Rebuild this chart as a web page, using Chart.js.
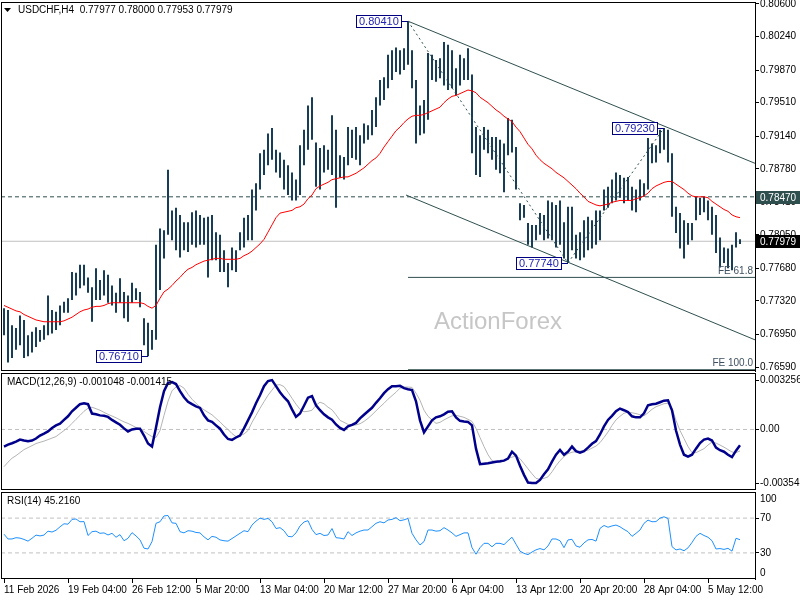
<!DOCTYPE html>
<html>
<head>
<meta charset="utf-8">
<script src="https://cdn.jsdelivr.net/npm/chart.js@4.4.1/dist/chart.umd.min.js"></script>
<style>
  body { margin: 0; background: #fff; }
  #wrap { position: relative; width: 800px; height: 600px; overflow: hidden; background: #fff; }
  canvas { position: absolute; left: 0; }
</style>
</head>
<body>
<div id="wrap">
  <canvas id="priceChart" width="800" height="372" style="top:0"></canvas>
  <canvas id="macdChart" width="800" height="118" style="top:372px"></canvas>
  <canvas id="rsiChart" width="800" height="110" style="top:490px"></canvas>
</div>
<script>
// USDCHF H4, one entry per pair of 4h bars
const HIGH = [
  0.7724, 0.7722, 0.7705, 0.7702, 0.7716, 0.7711, 0.7694, 0.7698, 0.7703, 0.7700,
  0.7705, 0.7738, 0.7722, 0.7720, 0.7727, 0.7731, 0.7735, 0.7764, 0.7763, 0.7772,
  0.7772, 0.7758, 0.7747, 0.7768, 0.7755, 0.7766, 0.7761, 0.7749, 0.7741, 0.7757,
  0.7742, 0.7738, 0.7752, 0.7746, 0.7742, 0.7713, 0.7708, 0.7700, 0.7794, 0.7812,
  0.7810, 0.7877, 0.7832, 0.7835, 0.7827, 0.7819, 0.7819, 0.7830, 0.7832, 0.7827,
  0.7824, 0.7825, 0.7827, 0.7808, 0.7805, 0.7788, 0.7774, 0.7791, 0.7788, 0.7808,
  0.7824, 0.7827, 0.7855, 0.7862, 0.7895, 0.7899, 0.7917, 0.7923, 0.7899, 0.7896,
  0.7888, 0.7882, 0.7874, 0.7866, 0.7904, 0.7921, 0.7948, 0.7957, 0.7907, 0.7901,
  0.7904, 0.7899, 0.7937, 0.7921, 0.7893, 0.7891, 0.7924, 0.7921, 0.7924, 0.7915,
  0.7928, 0.7926, 0.7943, 0.7957, 0.7976, 0.7979, 0.8004, 0.8009, 0.8012, 0.8009,
  0.8011, 0.8041, 0.8009, 0.7976, 0.7948, 0.7954, 0.8006, 0.8004, 0.7998, 0.8000,
  0.8018, 0.8015, 0.8009, 0.7989, 0.8004, 0.8000, 0.8011, 0.7982, 0.7924, 0.7915,
  0.7924, 0.7921, 0.7913, 0.7913, 0.7910, 0.7906, 0.7934, 0.7932, 0.7902, 0.7840,
  0.7838, 0.7818, 0.7816, 0.7816, 0.7829, 0.7827, 0.7843, 0.7841, 0.7838, 0.7843,
  0.7819, 0.7836, 0.7836, 0.7805, 0.7808, 0.7821, 0.7825, 0.7821, 0.7832, 0.7832,
  0.7855, 0.7858, 0.7866, 0.7874, 0.7871, 0.7868, 0.7869, 0.7858, 0.7855, 0.7866,
  0.7862, 0.7912, 0.7906, 0.7904, 0.7921, 0.7923, 0.7921, 0.7895, 0.7836, 0.7829,
  0.7821, 0.7818, 0.7818, 0.7847, 0.7846, 0.7847, 0.7843, 0.7836, 0.7827, 0.7802,
  0.7791, 0.7790, 0.7794, 0.7808, 0.7800
];
const LOW = [
  0.7694, 0.7664, 0.7669, 0.7678, 0.7683, 0.7669, 0.7671, 0.7675, 0.7681, 0.7687,
  0.7689, 0.7694, 0.7696, 0.7700, 0.7705, 0.7719, 0.7719, 0.7733, 0.7738, 0.7746,
  0.7749, 0.7741, 0.7709, 0.7733, 0.7733, 0.7738, 0.7730, 0.7727, 0.7719, 0.7730,
  0.7713, 0.7709, 0.7730, 0.7733, 0.7725, 0.7683, 0.7671, 0.7678, 0.7689, 0.7744,
  0.7779, 0.7805, 0.7799, 0.7788, 0.7780, 0.7788, 0.7786, 0.7794, 0.7791, 0.7794,
  0.7794, 0.7758, 0.7777, 0.7777, 0.7764, 0.7764, 0.7747, 0.7766, 0.7764, 0.7788,
  0.7791, 0.7799, 0.7799, 0.7832, 0.7855, 0.7871, 0.7882, 0.7888, 0.7874, 0.7868,
  0.7855, 0.7849, 0.7843, 0.7843, 0.7849, 0.7882, 0.7899, 0.7910, 0.7858, 0.7855,
  0.7874, 0.7877, 0.7871, 0.7835, 0.7868, 0.7866, 0.7882, 0.7890, 0.7888, 0.7882,
  0.7906, 0.7910, 0.7915, 0.7924, 0.7948, 0.7954, 0.7967, 0.7976, 0.7985, 0.7982,
  0.7987, 0.7993, 0.7967, 0.7906, 0.7915, 0.7917, 0.7932, 0.7976, 0.7974, 0.7978,
  0.7970, 0.7965, 0.7967, 0.7959, 0.7970, 0.7976, 0.7976, 0.7895, 0.7871, 0.7869,
  0.7899, 0.7895, 0.7888, 0.7877, 0.7873, 0.7852, 0.7893, 0.7896, 0.7855, 0.7821,
  0.7824, 0.7794, 0.7791, 0.7799, 0.7805, 0.7799, 0.7801, 0.7799, 0.7791, 0.7794,
  0.7779, 0.7774, 0.7788, 0.7779, 0.7777, 0.7780, 0.7788, 0.7790, 0.7794, 0.7799,
  0.7832, 0.7835, 0.7840, 0.7843, 0.7846, 0.7840, 0.7843, 0.7832, 0.7830, 0.7843,
  0.7847, 0.7855, 0.7884, 0.7885, 0.7895, 0.7899, 0.7885, 0.7825, 0.7807, 0.7790,
  0.7779, 0.7794, 0.7799, 0.7821, 0.7827, 0.7830, 0.7821, 0.7805, 0.7785, 0.7769,
  0.7774, 0.7768, 0.7766, 0.7791, 0.7795
];
const MA = [
  0.7727, 0.7725, 0.7723, 0.7721, 0.7720, 0.7717, 0.7715, 0.7713, 0.7711, 0.7710,
  0.7709, 0.7709, 0.7709, 0.7709, 0.7709, 0.7710, 0.7712, 0.7714, 0.7717, 0.7720,
  0.7722, 0.7723, 0.7725, 0.7726, 0.7726, 0.7727, 0.7729, 0.7730, 0.7730, 0.7730,
  0.7730, 0.7730, 0.7730, 0.7730, 0.7730, 0.7729, 0.7726, 0.7724, 0.7727, 0.7735,
  0.7742, 0.7745, 0.7749, 0.7754, 0.7758, 0.7763, 0.7767, 0.7769, 0.7772, 0.7774,
  0.7776, 0.7777, 0.7778, 0.7779, 0.7779, 0.7778, 0.7778, 0.7778, 0.7778, 0.7779,
  0.7782, 0.7784, 0.7787, 0.7791, 0.7795, 0.7800, 0.7808, 0.7816, 0.7824, 0.7829,
  0.7830, 0.7831, 0.7832, 0.7835, 0.7836, 0.7839, 0.7845, 0.7849, 0.7856, 0.7859,
  0.7861, 0.7863, 0.7866, 0.7867, 0.7868, 0.7869, 0.7869, 0.7871, 0.7873, 0.7876,
  0.7879, 0.7883, 0.7887, 0.7890, 0.7895, 0.7902, 0.7908, 0.7914, 0.7920, 0.7924,
  0.7929, 0.7933, 0.7936, 0.7937, 0.7937, 0.7938, 0.7940, 0.7942, 0.7944, 0.7946,
  0.7951, 0.7955, 0.7958, 0.7959, 0.7961, 0.7963, 0.7965, 0.7964, 0.7962, 0.7957,
  0.7954, 0.7951, 0.7947, 0.7943, 0.7940, 0.7936, 0.7933, 0.7930, 0.7924, 0.7919,
  0.7912, 0.7905, 0.7900, 0.7893, 0.7888, 0.7884, 0.7881, 0.7878, 0.7874, 0.7871,
  0.7868, 0.7864, 0.7860, 0.7856, 0.7851, 0.7847, 0.7842, 0.7840, 0.7838, 0.7837,
  0.7838, 0.7839, 0.7841, 0.7842, 0.7843, 0.7843, 0.7843, 0.7843, 0.7845, 0.7846,
  0.7848, 0.7851, 0.7856, 0.7859, 0.7861, 0.7863, 0.7864, 0.7864, 0.7861, 0.7858,
  0.7855, 0.7851, 0.7848, 0.7847, 0.7847, 0.7847, 0.7846, 0.7842, 0.7839, 0.7836,
  0.7833, 0.7831, 0.7827, 0.7825, 0.7824
];
const MACD = [
  -0.00113, -0.00100, -0.00091, -0.00080, -0.00067, -0.00073, -0.00078, -0.00073, -0.00060, -0.00040,
  -0.00027, -0.00013, 0.00010, 0.00027, 0.00038, 0.00063, 0.00087, 0.00120, 0.00143, 0.00167,
  0.00173, 0.00167, 0.00105, 0.00100, 0.00093, 0.00090, 0.00083, 0.00063, 0.00047, 0.00031,
  0.00007, -0.00013, 0.00000, 0.00005, 0.00005, -0.00040, -0.00093, -0.00113, 0.00013, 0.00147,
  0.00253, 0.00308, 0.00313, 0.00300, 0.00253, 0.00213, 0.00183, 0.00167, 0.00153, 0.00142,
  0.00093, 0.00060, 0.00050, 0.00027, 0.00005, -0.00033, -0.00063, -0.00069, -0.00053, -0.00040,
  0.00007, 0.00060, 0.00113, 0.00173, 0.00226, 0.00286, 0.00320, 0.00326, 0.00286, 0.00246,
  0.00213, 0.00186, 0.00133, 0.00083, 0.00105, 0.00157, 0.00210, 0.00220, 0.00160, 0.00127,
  0.00100, 0.00080, 0.00065, 0.00033, 0.00010, -0.00003, 0.00020, 0.00030, 0.00043, 0.00073,
  0.00097, 0.00120, 0.00143, 0.00176, 0.00206, 0.00240, 0.00266, 0.00286, 0.00286, 0.00288,
  0.00273, 0.00266, 0.00260, 0.00186, 0.00060, -0.00020, 0.00020, 0.00060, 0.00080, 0.00087,
  0.00100, 0.00117, 0.00120, 0.00080, 0.00057, 0.00053, 0.00050, 0.00027, -0.00127, -0.00229,
  -0.00226, -0.00223, -0.00218, -0.00213, -0.00210, -0.00206, -0.00193, -0.00147, -0.00173, -0.00240,
  -0.00300, -0.00351, -0.00354, -0.00354, -0.00333, -0.00296, -0.00263, -0.00213, -0.00167, -0.00135,
  -0.00167, -0.00147, -0.00113, -0.00143, -0.00153, -0.00143, -0.00120, -0.00095, -0.00077, -0.00033,
  0.00020, 0.00063, 0.00090, 0.00120, 0.00138, 0.00127, 0.00115, 0.00087, 0.00080, 0.00080,
  0.00107, 0.00160, 0.00167, 0.00170, 0.00180, 0.00190, 0.00193, 0.00127, -0.00007, -0.00100,
  -0.00167, -0.00180, -0.00167, -0.00127, -0.00090, -0.00067, -0.00060, -0.00073, -0.00120, -0.00137,
  -0.00147, -0.00167, -0.00183, -0.00140, -0.00105
];
const SIGNAL = [
  -0.00246, -0.00216, -0.00190, -0.00173, -0.00153, -0.00133, -0.00120, -0.00107, -0.00093, -0.00085,
  -0.00077, -0.00067, -0.00057, -0.00047, -0.00027, -0.00007, 0.00013, 0.00040, 0.00067, 0.00093,
  0.00120, 0.00140, 0.00147, 0.00137, 0.00127, 0.00113, 0.00100, 0.00089, 0.00077, 0.00063,
  0.00050, 0.00040, 0.00027, 0.00013, 0.00005, -0.00013, -0.00031, -0.00047, -0.00053, -0.00007,
  0.00093, 0.00186, 0.00256, 0.00280, 0.00290, 0.00273, 0.00233, 0.00200, 0.00173, 0.00149,
  0.00130, 0.00113, 0.00097, 0.00073, 0.00050, 0.00023, 0.00000, -0.00027, -0.00047, -0.00040,
  -0.00030, -0.00007, 0.00047, 0.00093, 0.00140, 0.00183, 0.00226, 0.00260, 0.00293, 0.00296,
  0.00283, 0.00246, 0.00206, 0.00167, 0.00133, 0.00117, 0.00120, 0.00127, 0.00160, 0.00180,
  0.00170, 0.00147, 0.00130, 0.00097, 0.00060, 0.00047, 0.00033, 0.00027, 0.00030, 0.00038,
  0.00053, 0.00073, 0.00097, 0.00123, 0.00149, 0.00173, 0.00200, 0.00223, 0.00246, 0.00273,
  0.00280, 0.00280, 0.00278, 0.00240, 0.00193, 0.00127, 0.00087, 0.00063, 0.00040, 0.00047,
  0.00063, 0.00077, 0.00090, 0.00093, 0.00087, 0.00080, 0.00067, 0.00053, 0.00007, -0.00053,
  -0.00113, -0.00167, -0.00206, -0.00213, -0.00218, -0.00206, -0.00190, -0.00183, -0.00176, -0.00193,
  -0.00226, -0.00260, -0.00293, -0.00323, -0.00330, -0.00323, -0.00313, -0.00280, -0.00240, -0.00206,
  -0.00180, -0.00160, -0.00150, -0.00147, -0.00143, -0.00142, -0.00137, -0.00123, -0.00110, -0.00087,
  -0.00053, -0.00017, 0.00027, 0.00063, 0.00087, 0.00107, 0.00115, 0.00110, 0.00105, 0.00097,
  0.00090, 0.00110, 0.00133, 0.00150, 0.00160, 0.00170, 0.00173, 0.00140, 0.00060, -0.00007,
  -0.00060, -0.00113, -0.00153, -0.00153, -0.00140, -0.00127, -0.00103, -0.00083, -0.00090, -0.00103,
  -0.00117, -0.00133, -0.00149, -0.00153, -0.00142
];
const RSI = [
  51.5, 46, 46, 47.5, 47, 45.5, 43.5, 46.8, 50.5, 49.5,
  50.5, 55, 54, 56, 60, 63.5, 63, 68.5, 69, 65.8,
  66, 50, 54.4, 55, 52.5, 53, 50.6, 52.5, 48, 51,
  44, 46.8, 53.3, 49.5, 45, 35.4, 34.5, 43, 64, 65.8,
  72.5, 73, 64.5, 64, 54.4, 53, 55.5, 55, 53.5, 53,
  48.5, 45, 49, 48, 44.9, 44, 43.5, 46.5, 49.5, 52.5,
  55.5, 54.4, 62, 66.5, 70, 68.5, 69.6, 65.8, 58, 59,
  55.5, 49, 48.5, 53, 61, 65.5, 67, 57, 51, 52.5,
  50, 50.6, 58, 47.5, 47, 46, 54.4, 50, 53, 55,
  56.3, 56.3, 60.1, 64, 65.8, 64.5, 67.8, 68.5, 70.5, 67,
  68, 69.6, 52.5, 45, 39.1, 43, 56.3, 56.3, 55, 55.5,
  59, 56.3, 53, 49, 51, 53, 53, 36, 28.5, 36,
  41, 41, 37, 41, 41, 39.5, 44, 48, 40, 32,
  29.5, 28, 31, 33.5, 35, 33.5, 38, 46, 46, 44,
  36, 44.9, 45.6, 38, 36.5, 41.5, 45, 45.5, 43.5, 58.2,
  61.5, 59.5, 61, 62, 60, 57, 54.4, 49, 52.5, 56.3,
  64, 67.7, 65.8, 66, 70, 71.5, 69.6, 37.2, 33.4, 34.5,
  32.5, 35.8, 42, 49, 52.5, 50, 48, 44, 34.5, 35,
  34, 35.3, 32, 46.8, 45.2
];

const PRICE_TICKS = [0.8060, 0.8024, 0.7987, 0.7951, 0.7914, 0.7878, 0.7841, 0.7805, 0.7768, 0.7732, 0.7695, 0.7659];
const MACD_TICKS = [0.003256, 0, -0.00354];
const MACD_TICK_LABELS = ['0.003256', '0.00', '-0.00354'];
const RSI_LEVELS = [70, 30];
const XTICK_POS = [0, 16, 32, 48, 64, 80, 96, 112, 128, 144, 160, 176];
const XTICK_LABELS = ['11 Feb 2026', '19 Feb 04:00', '26 Feb 12:00', '5 Mar 20:00', '13 Mar 04:00', '20 Mar 12:00',
  '27 Mar 20:00', '6 Apr 04:00', '13 Apr 12:00', '20 Apr 20:00', '28 Apr 04:00', '5 May 12:00'];

// swing points and drawn objects (bar index, price)
const PIVOT_INDEX = [101, 165, 141, 36];
const PIVOT_PRICE = [0.80410, 0.79230, 0.77740, 0.76710];
const LEVEL_PRICE = 0.78470;
const LAST_CLOSE = 0.77979;
const FE618 = 0.7758;
const FE100 = 0.7656;
const UPPER_CHANNEL = [[101, 0.8041], [187.75, 0.7884]];
const LOWER_CHANNEL = [[100.5, 0.7849], [187.75, 0.7689]];

const FONT = '"Liberation Sans", Arial, sans-serif';
Chart.defaults.font.family = FONT;
Chart.defaults.font.size = 10;
Chart.defaults.color = '#000';
Chart.defaults.animation = false;
Chart.defaults.plugins.legend.display = false;
Chart.defaults.plugins.tooltip.enabled = false;

const X_MIN = -0.75, X_MAX = 187.75;
const pts = arr => arr.map((v, i) => ({ x: i, y: v }));
const seg = arr => arr.map(p => ({ x: p[0], y: p[1] }));
const flat = v => [{ x: X_MIN, y: v }, { x: X_MAX, y: v }];

function line(data, color, width, extra) {
  return Object.assign({ type: 'line', data, borderColor: color, borderWidth: width,
    pointRadius: 0, tension: 0, fill: false }, extra || {});
}

function xAxis(show) {
  return {
    type: 'linear', min: X_MIN, max: X_MAX, offset: false, display: show,
    grid: { drawOnChartArea: false, tickLength: 4, color: '#000' },
    border: { display: false },
    afterBuildTicks: s => { s.ticks = XTICK_POS.map(v => ({ value: v })); },
    afterFit: s => {
      s.height = show ? 21 : 0;
      s.paddingLeft = 0; s.paddingRight = 0;
    },
    ticks: { autoSkip: false, maxRotation: 0, align: 'start', padding: 1,
      callback: (v, i) => XTICK_LABELS[i] }
  };
}

function yAxis(min, max, ticks, fmt) {
  return {
    position: 'right', min, max,
    afterFit: s => { s.width = 45; s.paddingTop = 0; s.paddingBottom = 0; },
    afterBuildTicks: s => { s.ticks = ticks.map(v => ({ value: v })); },
    grid: { drawOnChartArea: false, tickLength: 4, color: '#000' },
    border: { display: true, color: '#000' },
    ticks: { autoSkip: false, padding: 1, callback: fmt }
  };
}

const panelFrame = {
  id: 'panelFrame',
  afterDraw(chart) {
    const { ctx, chartArea: a } = chart;
    ctx.save();
    ctx.strokeStyle = '#000';
    ctx.lineWidth = 1;
    ctx.strokeRect(a.left + 0.5, a.top + 0.5, a.right - a.left, a.bottom - a.top - 1);
    ctx.restore();
  }
};

function panelTitle(chart, txt) {
  const { ctx, chartArea: a } = chart;
  ctx.save();
  ctx.font = '10px ' + FONT;
  ctx.fillStyle = '#000';
  ctx.textBaseline = 'middle';
  ctx.fillText(txt, a.left + 6, a.top + 9);
  ctx.restore();
}

const priceOverlay = {
  id: 'priceOverlay',
  beforeDatasetsDraw(chart) {
    const { ctx } = chart;
    ctx.save();
    ctx.font = '24px ' + FONT;
    ctx.fillStyle = '#c6c6c6';
    ctx.textAlign = 'center';
    ctx.textBaseline = 'middle';
    ctx.fillText('ActionForex', 498, 322);
    ctx.restore();
  },
  afterDraw(chart) {
    const { ctx, chartArea: a, scales: { x, y } } = chart;
    ctx.save();
    // header
    ctx.fillStyle = '#000';
    ctx.beginPath();
    ctx.moveTo(a.left + 3, a.top + 6); ctx.lineTo(a.left + 10, a.top + 6); ctx.lineTo(a.left + 6.5, a.top + 10);
    ctx.closePath(); ctx.fill();
    ctx.font = '10px ' + FONT;
    ctx.textBaseline = 'middle';
    ctx.fillText('USDCHF,H4  0.77977 0.78000 0.77953 0.77979', a.left + 17, a.top + 8);

    // swing labels
    ctx.font = '11px ' + FONT;
    ctx.lineWidth = 1;
    PIVOT_INDEX.forEach((idx, k) => {
      const px = Math.round(x.getPixelForValue(idx));
      const py = Math.round(y.getPixelForValue(PIVOT_PRICE[k])) + 0.5;
      const txt = PIVOT_PRICE[k].toFixed(5);
      const w = Math.ceil(ctx.measureText(txt).width) + 5;
      const right = px - 7;
      ctx.strokeStyle = '#000080';
      ctx.beginPath(); ctx.moveTo(right, py); ctx.lineTo(px, py); ctx.stroke();
      ctx.fillStyle = '#fff';
      ctx.fillRect(right - w, py - 6, w, 12);
      ctx.strokeRect(right - w + 0.5, py - 6, w, 12);
      ctx.fillStyle = '#2323b4';
      ctx.fillText(txt, right - w + 3, py + 0.5);
    });

    // FE labels
    ctx.font = '10px ' + FONT;
    ctx.fillStyle = '#3e5060';
    ctx.textAlign = 'right';
    ctx.textBaseline = 'bottom';
    ctx.fillText('FE 61.8', a.right - 2, y.getPixelForValue(FE618) - 1);
    ctx.fillText('FE 100.0', a.right - 2, y.getPixelForValue(FE100) - 1);

    // price tags on the axis
    ctx.textAlign = 'left';
    ctx.textBaseline = 'middle';
    [[LEVEL_PRICE, '#2f4f4f'], [LAST_CLOSE, '#000']].forEach(([p, bg]) => {
      const py = Math.round(y.getPixelForValue(p));
      ctx.fillStyle = bg;
      ctx.fillRect(a.right + 1, py - 6, 44, 13);
      ctx.fillStyle = '#fff';
      ctx.fillText(p.toFixed(5), a.right + 5, py + 1);
    });
    ctx.restore();
  }
};

new Chart(document.getElementById('priceChart'), {
  type: 'bar',
  data: {
    datasets: [
      line(flat(LAST_CLOSE), '#c0c0c0', 1, { order: 9 }),
      line(flat(LEVEL_PRICE), '#2f4f4f', 1, { order: 8, borderDash: [4, 3] }),
      {
        type: 'bar', order: 5,
        data: HIGH.map((h, i) => ({ x: i, y: [LOW[i], h] })),
        backgroundColor: '#173d57', borderWidth: 0, barThickness: 2, inflateAmount: 0
      },
      line(seg(UPPER_CHANNEL), '#2f4f4f', 1, { order: 3 }),
      line(seg(LOWER_CHANNEL), '#2f4f4f', 1, { order: 3 }),
      line([{ x: 101, y: FE618 }, { x: X_MAX, y: FE618 }], '#2f4f4f', 1, { order: 3 }),
      line([{ x: 101, y: FE100 }, { x: X_MAX, y: FE100 }], '#2f4f4f', 1, { order: 3 }),
      line(PIVOT_INDEX.slice(0, 3).map((v, k) => ({ x: v, y: PIVOT_PRICE[k] }))
        .sort((p, q) => p.x - q.x), '#2f4f4f', 1, { order: 2, borderDash: [2, 3] }),
      line(pts(MA), '#ff0000', 1, { order: 1 })
    ]
  },
  options: {
    responsive: false, devicePixelRatio: 1,
    layout: { padding: { left: 1, right: 0, top: 2, bottom: 1 } },
    scales: {
      x: xAxis(false),
      y: yAxis(0.76546, 0.80622, PRICE_TICKS, v => v.toFixed(5))
    }
  },
  plugins: [panelFrame, priceOverlay]
});

new Chart(document.getElementById('macdChart'), {
  type: 'line',
  data: {
    datasets: [
      line(flat(0), '#c0c0c0', 1, { order: 3, borderDash: [4, 3] }),
      line(pts(SIGNAL), '#b4b4b4', 1, { order: 2 }),
      line(pts(MACD), '#00008b', 2.5, { order: 1 })
    ]
  },
  options: {
    responsive: false, devicePixelRatio: 1,
    layout: { padding: { left: 1, right: 0, top: 1, bottom: 0 } },
    scales: {
      x: xAxis(false),
      y: yAxis(-0.0040, 0.00373, MACD_TICKS, (v, i) => MACD_TICK_LABELS[i])
    }
  },
  plugins: [panelFrame, { id: 'macdTitle', afterDraw: c => panelTitle(c, 'MACD(12,26,9) -0.001048 -0.001415') }]
});

new Chart(document.getElementById('rsiChart'), {
  type: 'line',
  data: {
    datasets: [
      line(flat(RSI_LEVELS[0]), '#c0c0c0', 1, { order: 3, borderDash: [4, 3] }),
      line(flat(RSI_LEVELS[1]), '#c0c0c0', 1, { order: 3, borderDash: [4, 3] }),
      line(pts(RSI), '#1e90ff', 1, { order: 1 })
    ]
  },
  options: {
    responsive: false, devicePixelRatio: 1,
    layout: { padding: { left: 1, right: 0, top: 2, bottom: 0 } },
    scales: {
      x: xAxis(true),
      y: yAxis(0, 100, RSI_LEVELS, v => String(v))
    }
  },
  plugins: [panelFrame, {
    id: 'rsiTitle',
    afterDraw(c) {
      panelTitle(c, 'RSI(14) 45.2160');
      const { ctx, chartArea: a, scales: { y } } = c;
      ctx.save();
      ctx.font = '10px ' + FONT;
      ctx.fillStyle = '#000';
      ctx.textBaseline = 'middle';
      ctx.fillText('100', a.right + 5, y.getPixelForValue(100) + 7);
      ctx.fillText('0', a.right + 5, y.getPixelForValue(0) - 6);
      ctx.restore();
    }
  }]
});
</script>
</body>
</html>
